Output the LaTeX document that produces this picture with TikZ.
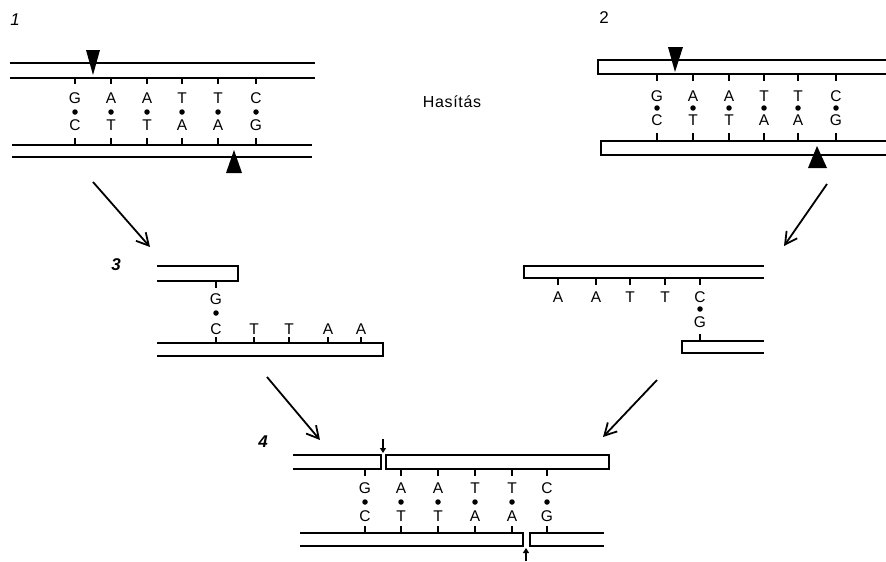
\documentclass[tikz,border=0pt]{standalone}
\usepackage{fontspec}
\setmainfont{Liberation Sans}
\usetikzlibrary{arrows.meta}
\tikzset{
  strand/.style={line width=1.6pt, line cap=butt, line join=miter},
  tick/.style={line width=1.2pt},
  basel/.style={inner sep=0pt, font=\fontsize{15.5}{15.5}\selectfont},
  bdot/.style={circle, fill=black, inner sep=0pt, minimum size=5.5pt},
  cut/.style={fill=black, draw=none},
  flow/.style={line width=1.8pt, -{Straight Barb[length=12pt,width=13pt,line width=1.8pt]}},
  nick/.style={line width=1.3pt, -{Triangle[length=5pt,width=6pt]}},
  numlab/.style={inner sep=0pt, font=\fontsize{17}{17}\selectfont}
}
\begin{document}
\begin{tikzpicture}[x=1pt,y=-1pt]
\useasboundingbox (0,0) rectangle (886,562);

% ---------- panel labels ----------
\node[numlab] (n1) at (15,20) {\itshape 1};
\node[numlab] (n2) at (604,18) {2};
\node[numlab] (n3) at (116,265) {\bfseries\itshape 3};
\node[numlab] (n4) at (263,442) {\bfseries\itshape 4};
\node[inner sep=0pt, font=\fontsize{16}{16}\selectfont\addfontfeature{LetterSpace=4}] (hasitas) at (452,102) {Hasítás};

% ---------- panel 1 ----------
\draw[strand] (10,63) -- (315,63);
\draw[strand] (10,78) -- (315,78);
\draw[strand] (12,145) -- (312,145);
\draw[strand] (12,157) -- (312,157);
\foreach \x/\t/\b [count=\i] in {75/G/C,111/A/T,147/A/T,182/T/A,218/T/A,256/C/G} {
  \node[basel] (pa\i) at (\x,98) {\t};
  \node[bdot] (pd\i) at (\x,112) {};
  \node[basel] (pb\i) at (\x,125) {\b};
  \draw[tick] (\x,78) -- (\x,84);
  \draw[tick] (\x,138) -- (\x,145);
}
\path[cut] (86,50) -- (100,50) -- (93,75) -- cycle;
\path[cut] (226,173) -- (242,173) -- (234,150) -- cycle;

% ---------- panel 2 ----------
\draw[strand] (887,60) -- (598,60) -- (598,74) -- (887,74);
\draw[strand] (887,141) -- (601,141) -- (601,155) -- (887,155);
\foreach \x/\t/\b [count=\i] in {657/G/C,693/A/T,729/A/T,764/T/A,798/T/A,836/C/G} {
  \node[basel] (qa\i) at (\x,96) {\t};
  \node[bdot] (qd\i) at (\x,108) {};
  \node[basel] (qb\i) at (\x,120) {\b};
  \draw[tick] (\x,74) -- (\x,81);
  \draw[tick] (\x,133) -- (\x,141);
}
\path[cut] (668,47) -- (683,47) -- (675,72) -- cycle;
\path[cut] (808,168) -- (827,168) -- (817,146) -- cycle;

% ---------- panel 3 (left fragment) ----------
\draw[strand] (157,266) -- (238,266) -- (238,281) -- (157,281);
\draw[strand] (157,343) -- (383,343) -- (383,356) -- (157,356);
\node[basel] (rg) at (216,299) {G};
\node[bdot] (rd) at (216,313) {};
\draw[tick] (216,281) -- (216,288);
\foreach \x/\b [count=\i] in {216/C,254/T,289/T,328/A,361/A} {
  \node[basel] (rb\i) at (\x,329) {\b};
  \draw[tick] (\x,337) -- (\x,343);
}

% ---------- right fragment ----------
\draw[strand] (764,266) -- (524,266) -- (524,278) -- (764,278);
\draw[strand] (764,341) -- (682,341) -- (682,353) -- (764,353);
\foreach \x/\t [count=\i] in {558/A,596/A,630/T,665/T,700/C} {
  \node[basel] (sa\i) at (\x,297) {\t};
  \draw[tick] (\x,278) -- (\x,285);
}
\node[bdot] (sd) at (700,309) {};
\node[basel] (sg) at (700,322) {G};
\draw[tick] (700,334) -- (700,341);

% ---------- panel 4 ----------
\draw[strand] (293,455) -- (381,455) -- (381,469) -- (293,469);
\draw[strand] (386,455) rectangle (609,469);
\draw[strand] (300,533) -- (523,533) -- (523,546) -- (300,546);
\draw[strand] (604,533) -- (530,533) -- (530,546) -- (604,546);
\foreach \x/\t/\b [count=\i] in {365/G/C,401/A/T,438/A/T,475/T/A,512/T/A,547/C/G} {
  \node[basel] (ta\i) at (\x,488) {\t};
  \node[bdot] (td\i) at (\x,502) {};
  \node[basel] (tb\i) at (\x,516) {\b};
  \draw[tick] (\x,469) -- (\x,476);
  \draw[tick] (\x,526) -- (\x,533);
}
\coordinate (k1s) at (383,439);
\coordinate (k1e) at (383,453);
\draw[nick] (k1s) -- (k1e);
\coordinate (k2s) at (526,561);
\coordinate (k2e) at (526,548);
\draw[nick] (k2s) -- (k2e);

% ---------- flow arrows ----------
\coordinate (f1s) at (93,182);
\coordinate (f1e) at (150,247);
\coordinate (f2s) at (827,184);
\coordinate (f2e) at (784,246);
\coordinate (f3s) at (267,377);
\coordinate (f3e) at (320,440);
\coordinate (f4s) at (657,380);
\coordinate (f4e) at (603,437);
\draw[flow] (f1s) -- (f1e);
\draw[flow] (f2s) -- (f2e);
\draw[flow] (f3s) -- (f3e);
\draw[flow] (f4s) -- (f4e);
\end{tikzpicture}
\end{document}
